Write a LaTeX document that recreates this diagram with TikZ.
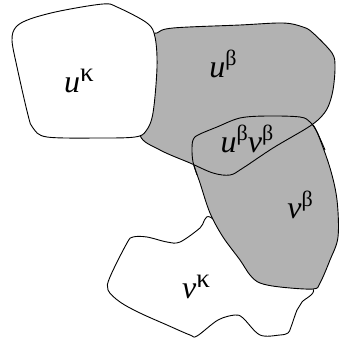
\documentclass[tikz,border=0pt]{standalone}
\usepackage{fontspec}
\setmainfont{Liberation Serif}
\newcommand{\bas}[1]{{\fontsize{32}{32}\selectfont\itshape #1}}
\newcommand{\supx}[1]{\raisebox{12pt}{\fontsize{22}{22}\selectfont #1}}
\newcommand{\supk}{\raisebox{11pt}{\fontsize{27}{27}\selectfont κ}}
\begin{document}
\begin{tikzpicture}[x=1pt,y=-1pt,
  region/.style={draw=black,line width=0.9pt},
  grayregion/.style={region,fill=black!30},
  whiteregion/.style={region,fill=white},
  lab/.style={inner sep=0pt,font=\fontsize{32}{32}\selectfont}]
\useasboundingbox (0,0) rectangle (339,340);
% v kappa (white, under v beta)
\draw[whiteregion] plot[smooth cycle,tension=0.55] coordinates {
 (210,217) (200,228) (180,242) (167,242) (147,237) (133,237) (127,243)
 (110,277) (108,290) (120,302) (140,313) (167,325) (190,335) (197,336)
 (218,320) (235,315) (243,318) (260,335) (280,335) (288,333) (291,327)
 (297,310) (302,302) (313,289) (280,270) (240,245)};
% v beta (gray)
\draw[grayregion] plot[smooth cycle,tension=0.55] coordinates {
 (193,140) (198,135) (217,127) (240,118) (267,116) (300,117) (310,122)
 (317,132) (330,168) (337,200) (338,237) (330,260) (320,283) (313,289)
 (280,287) (260,283) (250,275) (240,260) (223,237) (210,213) (200,183)
 (193,162) (192,150)};
% u beta (gray)
\draw[grayregion] plot[smooth cycle,tension=0.55] coordinates {
 (150,40) (157,33) (173,28) (240,25) (283,23) (303,27) (313,33) (332,53)
 (335,67) (333,90) (328,107) (320,118) (307,128) (273,148) (243,168)
 (230,175) (213,173) (190,163) (160,150) (140,135) (146,100)};
% lens: re-draw v beta outline top part over u beta fill
\draw[region] plot[smooth,tension=0.55] coordinates {
 (197,175) (193,162) (192,150) (193,140) (198,135) (217,127) (240,118)
 (267,116) (300,117) (310,122) (317,132) (325,150)};
% u kappa (white)
\draw[whiteregion] plot[smooth cycle,tension=0.55] coordinates {
 (12,40) (16,27) (30,19) (60,11) (103,4) (117,7) (147,23) (155,37)
 (157,67) (153,113) (146,131) (135,137) (100,138) (47,137) (33,128)
 (28,115) (17,67)};
% labels
\node[lab] (uk) at (79,81) {\bas{u}\supk};
\node[lab] (ub) at (223,64) {\bas{u}\supx{β}};
\node[lab] (ubvb) at (247,139) {\bas{u}\supx{β}\bas{ν}\supx{β}};
\node[lab] (vb) at (300,205) {\bas{ν}\supx{β}};
\node[lab] (vk) at (196,287) {\bas{ν}\supk};
\end{tikzpicture}
\end{document}
